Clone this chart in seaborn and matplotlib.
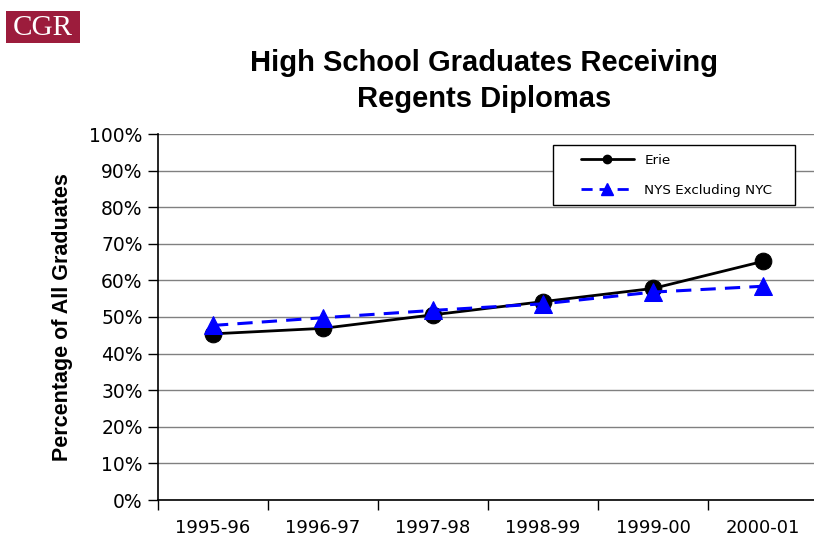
import numpy as np
import pandas as pd
import matplotlib
matplotlib.use('Agg')
import matplotlib.pyplot as plt
import seaborn as sns
from matplotlib.lines import Line2D
from matplotlib.patches import Rectangle
from matplotlib.ticker import FixedLocator, PercentFormatter

# данные
years = ['1995-96', '1996-97', '1997-98', '1998-99', '1999-00', '2000-01']
erie = [45.4, 46.9, 50.6, 54.2, 57.8, 65.2]
nys_ex_nyc = [47.7, 49.8, 51.8, 53.6, 56.8, 58.4]

sns.set_theme(style='white')
plt.rcParams.update({
    'font.family': ['DejaVu Sans'],
    'text.color': 'black',
    'axes.labelcolor': 'black',
    'xtick.color': 'black',
    'ytick.color': 'black',
})

df = pd.DataFrame({'year': years, 'Erie': erie, 'NYS Excluding NYC': nys_ex_nyc})

W, H = 814, 542
fig = plt.figure(figsize=(W / 100, H / 100), dpi=100)
ax = fig.add_axes([158 / W, 42 / H, 660 / W, 366 / H])

sns.lineplot(data=df, x='year', y='Erie', ax=ax, color='black', lw=2,
             marker='o', markersize=12, markeredgecolor='black', sort=False, zorder=3)
sns.lineplot(data=df, x='year', y='NYS Excluding NYC', ax=ax, color='#0000ff', lw=2.2,
             linestyle=(0, (5, 3)), marker='^', markersize=13.5, markeredgecolor='#0000ff',
             sort=False, zorder=4)

ax.set_xlim(-0.5, 5.5)
ax.set_ylim(0, 100)
ax.yaxis.set_major_locator(FixedLocator(np.arange(0, 101, 10)))
ax.yaxis.set_major_formatter(PercentFormatter(decimals=0))
ax.grid(axis='y', color='#808080', lw=1)
ax.set_axisbelow(True)

# засечки между категориями
ax.xaxis.set_minor_locator(FixedLocator(np.arange(-0.5, 6, 1)))
ax.tick_params(axis='x', which='major', length=0, pad=14, labelsize=13)
ax.tick_params(axis='x', which='minor', length=7, width=1, color='black', direction='out', bottom=True)
ax.tick_params(axis='y', length=7, width=1, color='black', direction='out', left=True,
               labelsize=13.5, pad=4)

for s in ['top', 'right']:
    ax.spines[s].set_visible(False)
for s in ['left', 'bottom']:
    ax.spines[s].set_color('black')
    ax.spines[s].set_linewidth(1.2)

ax.set_xlabel('')
ax.set_ylabel('Percentage of All Graduates', fontsize=15.5, fontweight='bold',
              family='Liberation Sans', labelpad=12)

# рамка легенды
ax.add_patch(Rectangle(((553 - 158) / 660, (500 - 205) / 366), 242 / 660, 60 / 366,
                       transform=ax.transAxes, facecolor='white', edgecolor='black',
                       lw=1, zorder=5, clip_on=False))
handles = [
    Line2D([], [], color='black', lw=2, marker='o', markersize=6),
    Line2D([], [], color='#0000ff', lw=2, linestyle=(0, (4, 2.5)), marker='^', markersize=8),
]
leg = ax.legend(handles, ['Erie', 'NYS Excluding NYC'], loc='upper left',
                bbox_to_anchor=((581 - 158) / 660, (500 - 154) / 366), fontsize=9.7,
                frameon=False, handlelength=3.9, handletextpad=0.8,
                labelspacing=1.25, borderpad=0, borderaxespad=0)
leg.set_zorder(6)

fig.text(484 / W, 1 - 81 / H, 'High School Graduates Receiving\nRegents Diplomas',
         ha='center', va='center', fontsize=21, fontweight='bold',
         family='Liberation Sans', linespacing=1.35)

# логотип CGR
fig.patches.append(Rectangle((6 / W, 1 - 43 / H), 74 / W, 32 / H, transform=fig.transFigure,
                             facecolor='#9c1c3c', edgecolor='none'))
fig.text(43 / W, 1 - 28 / H, 'CGR', ha='center', va='center', fontsize=21,
         color='white', family='Liberation Serif')

fig.savefig('out.png', dpi=100)
